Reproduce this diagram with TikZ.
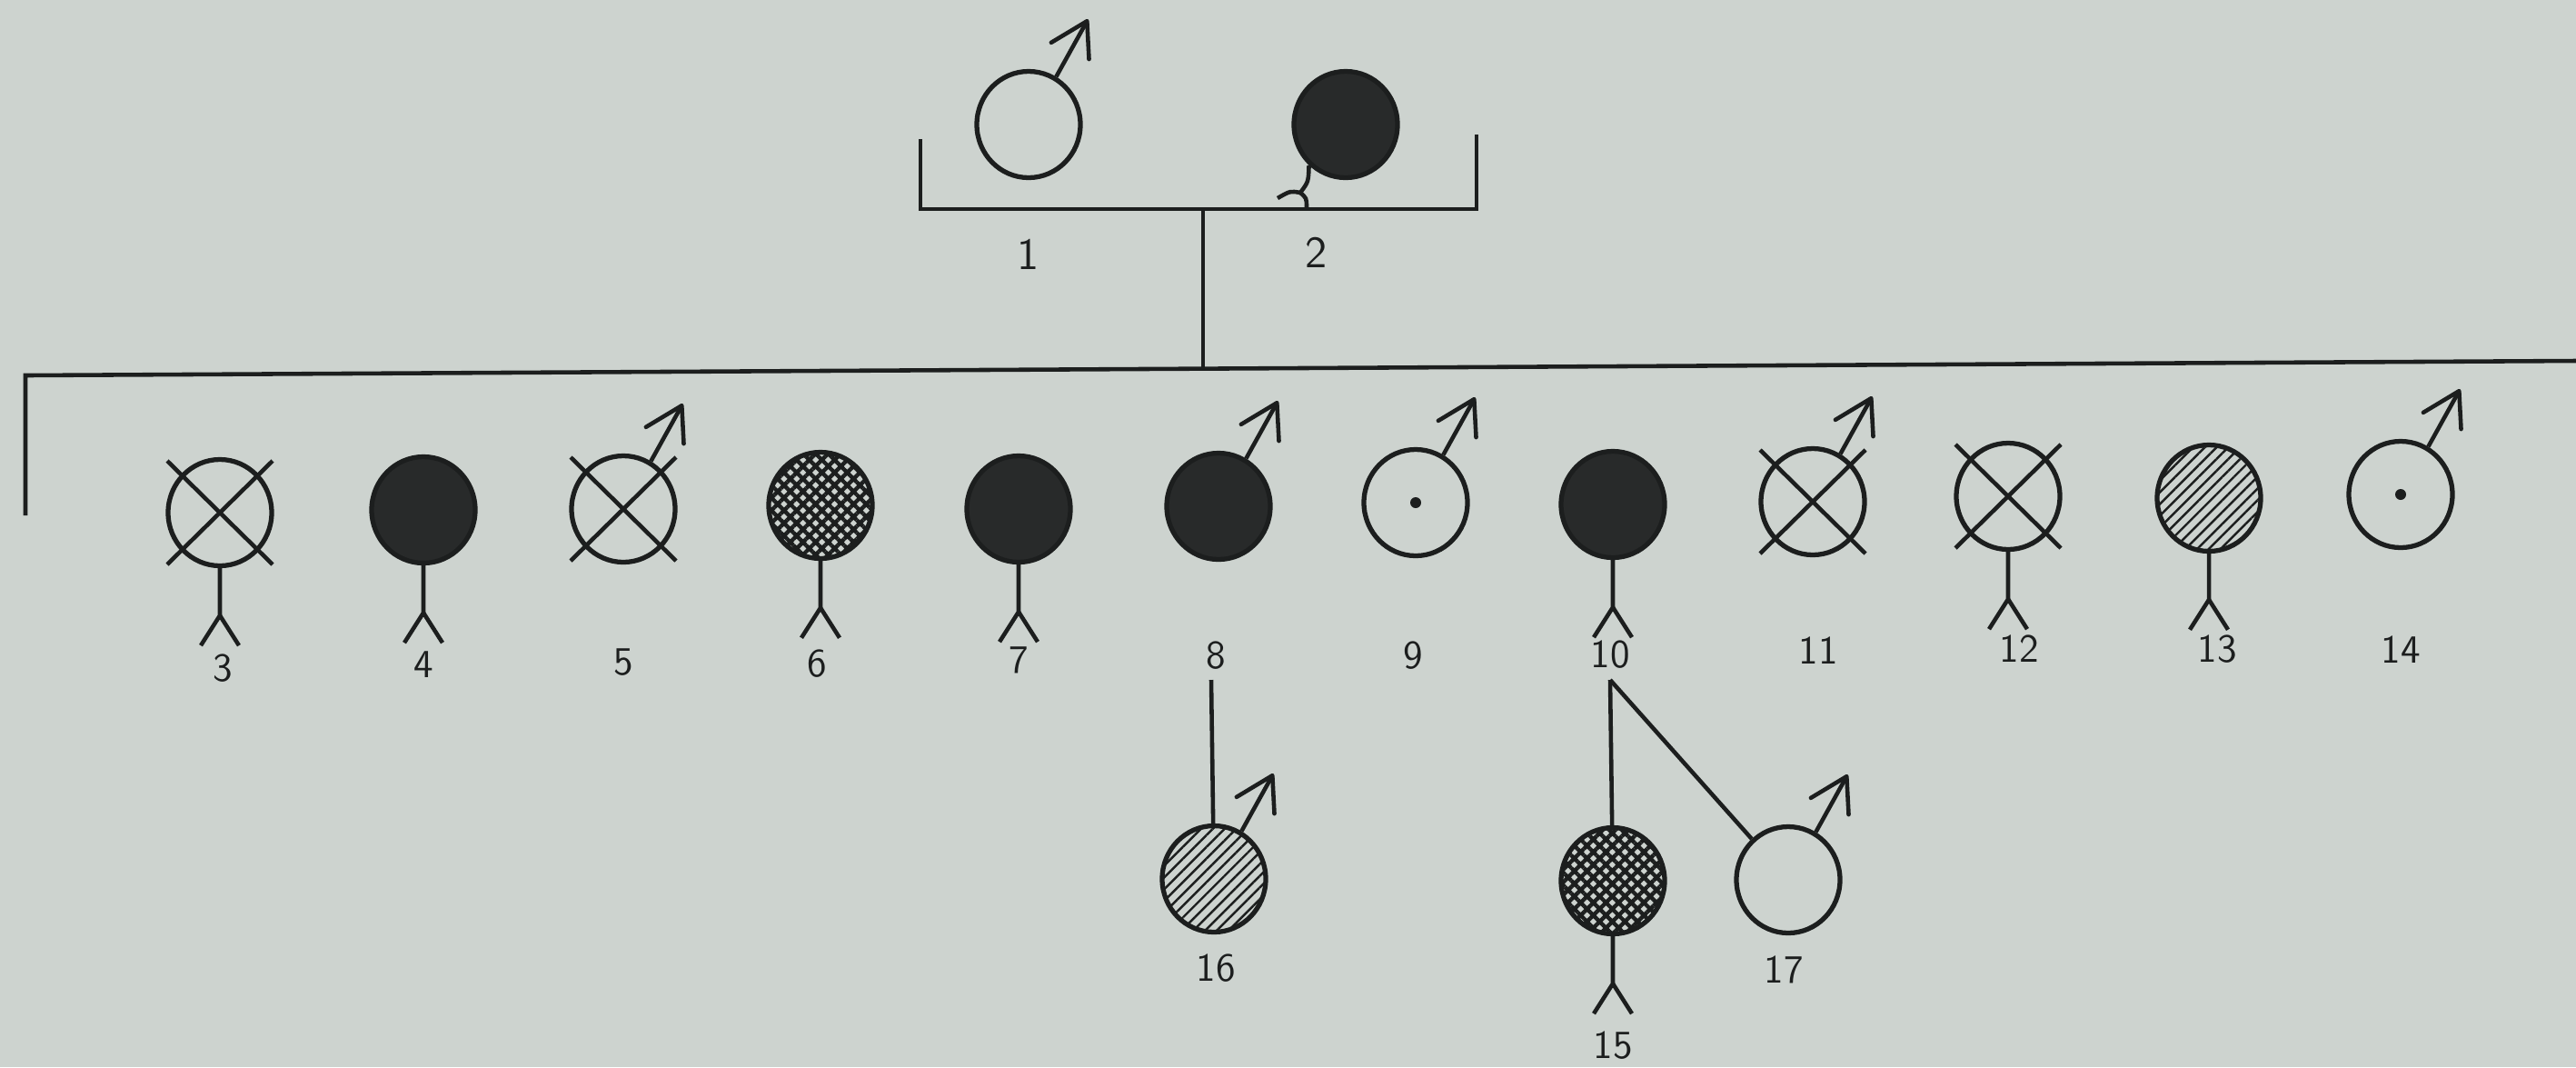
\documentclass[tikz,border=0pt]{standalone}
\usetikzlibrary{shapes.geometric,patterns.meta}
\definecolor{bg}{RGB}{205,211,207}
\definecolor{ink}{RGB}{28,30,30}
\definecolor{darkfill}{RGB}{40,42,42}
\tikzset{
  person/.style={ellipse, draw=ink, line width=1.5pt, minimum width=1.14cm, minimum height=1.17cm, inner sep=0pt},
  dark/.style={fill=darkfill},
  hatch/.style={pattern={Lines[angle=45,distance=2.6pt,line width=0.7pt]}, pattern color=ink},
  xhatch/.style={pattern={Hatch[angle=45,distance=2.8pt,line width=1.25pt]}, pattern color=ink},
  ln/.style={draw=ink, line width=1.3pt},
  barb/.style={draw=ink, line width=1.3pt, line join=round, line cap=round},
  lbl/.style={inner sep=0pt, text=ink, font=\sffamily\fontsize{12.5}{15}\selectfont},
  toplbl/.style={lbl, font=\sffamily\fontsize{14}{16}\selectfont},
}
\newcommand\malesym[1]{\draw[ln] (#1.60) -- ++(61:0.70) coordinate (#1t);
  \draw[barb] ([shift={(211:0.46)}]#1t) -- (#1t) -- ([shift={(273:0.42)}]#1t);}
\newcommand\femsym[1]{\draw[ln] (#1.south) -- ++(0,-0.52) coordinate (#1f) -- ++(-0.21,-0.33); \draw[ln] (#1f) -- ++(0.21,-0.33);}
\newcommand\xsym[1]{\draw[ln] ([shift={(-0.58,0.57)}]#1.center) -- ([shift={(0.58,-0.57)}]#1.center); \draw[ln] ([shift={(0.58,0.57)}]#1.center) -- ([shift={(-0.58,-0.57)}]#1.center);}
\newcommand\dotsym[1]{\fill[ink] (#1.center) circle (0.06);}
\begin{document}
\begin{tikzpicture}
\fill[bg] (0,0) rectangle (28.35,-11.74);
\useasboundingbox (0,0) rectangle (28.35,-11.74);

% generation I
\node[person] (p1) at (11.32,-1.37) {};
\node[person,dark] (p2) at (14.81,-1.37) {};
\malesym{p1}
\draw[ln] (p2.228) .. controls (14.40,-2.00) .. (14.31,-2.12) coordinate (p2f);
\draw[ln] (p2f) .. controls (14.20,-2.10) .. (14.06,-2.18);
\draw[ln] (p2f) .. controls (14.38,-2.18) .. (14.38,-2.29);
\coordinate (bl) at (10.13,-1.53);
\coordinate (br) at (16.25,-1.48);
\coordinate (bm) at (13.24,-2.30);
\draw[ln] (bl) -- (10.13,-2.30) -- (16.25,-2.30) -- (br);
\node[toplbl] (l1) at (11.32,-2.80) {1};
\node[toplbl] (l2) at (14.49,-2.78) {2};

% sibship line
\coordinate (mL) at (0.28,-4.13);
\coordinate (mR) at (28.35,-3.97);
\coordinate (mj) at (13.24,-4.06);
\coordinate (mS) at (0.28,-5.67);
\draw[ln] (mS) -- (mL) -- (mR);
\draw[ln] (bm) -- (mj);

% generation II
\node[person] (p3) at (2.42,-5.64) {};
\node[person,dark] (p4) at (4.66,-5.61) {};
\node[person] (p5) at (6.86,-5.60) {};
\node[person,xhatch] (p6) at (9.03,-5.56) {};
\node[person,dark] (p7) at (11.21,-5.60) {};
\node[person,dark] (p8) at (13.41,-5.57) {};
\node[person] (p9) at (15.58,-5.53) {};
\node[person,dark] (p10) at (17.75,-5.55) {};
\node[person] (p11) at (19.95,-5.52) {};
\node[person] (p12) at (22.10,-5.46) {};
\node[person,hatch] (p13) at (24.31,-5.48) {};
\node[person] (p14) at (26.42,-5.44) {};

\xsym{p3}\femsym{p3}
\femsym{p4}
\xsym{p5}\malesym{p5}
\femsym{p6}
\femsym{p7}
\malesym{p8}
\dotsym{p9}\malesym{p9}
\femsym{p10}
\xsym{p11}\malesym{p11}
\xsym{p12}\femsym{p12}
\femsym{p13}
\dotsym{p14}\malesym{p14}

\node[lbl] (l3) at (2.45,-7.35) {3};
\node[lbl] (l4) at (4.66,-7.31) {4};
\node[lbl] (l5) at (6.86,-7.29) {5};
\node[lbl] (l6) at (8.99,-7.30) {6};
\node[lbl] (l7) at (11.21,-7.26) {7};
\node[lbl] (l8) at (13.38,-7.21) {8};
\node[lbl] (l9) at (15.55,-7.21) {9};
\node[lbl] (l10) at (17.72,-7.20) {10};
\node[lbl] (l11) at (20.01,-7.16) {11};
\node[lbl] (l12) at (22.22,-7.14) {12};
\node[lbl] (l13) at (24.40,-7.14) {13};
\node[lbl] (l14) at (26.42,-7.15) {14};

% generation III
\node[person,hatch] (p16) at (13.36,-9.67) {};
\node[person,xhatch] (p15) at (17.75,-9.69) {};
\node[person] (p17) at (19.68,-9.68) {};
\malesym{p16}
\femsym{p15}
\malesym{p17}
\coordinate (c8) at (13.33,-7.48);
\coordinate (c10) at (17.72,-7.48);
\draw[ln] (c8) -- (p16);
\draw[ln] (c10) -- (p15);
\draw[ln] (c10) -- (p17);
\node[lbl] (l16) at (13.38,-10.65) {16};
\node[lbl] (l17) at (19.63,-10.67) {17};
\node[lbl] (l15) at (17.75,-11.50) {15};
\end{tikzpicture}
\end{document}
